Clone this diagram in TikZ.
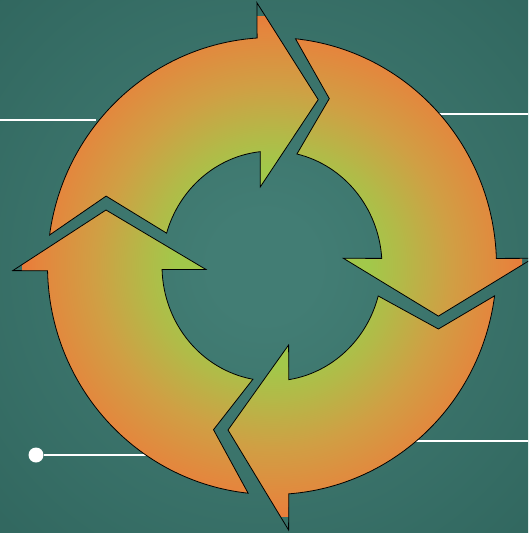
\documentclass[tikz,border=0pt]{standalone}
\usepackage{xcolor}
\usepackage{tikz}
\usetikzlibrary{calc}

\definecolor{sfondoc}{HTML}{427D74}
\definecolor{sfondob}{HTML}{31675F}
\definecolor{verde}{HTML}{A2C84A}
\definecolor{giallo}{HTML}{B2BA48}
\definecolor{ocra}{HTML}{D09F44}
\definecolor{arancio}{HTML}{E5853D}
\definecolor{rosso}{HTML}{EE6E35}

\pgfdeclareradialshading{sfondo}{\pgfpoint{0bp}{0bp}}{color(0bp)=(sfondoc); color(5bp)=(sfondoc); color(36bp)=(sfondob); color(50bp)=(sfondob)}
\pgfdeclareradialshading{anello}{\pgfpoint{0bp}{0bp}}{color(0bp)=(verde); color(9bp)=(verde); color(12bp)=(giallo); color(17bp)=(ocra); color(22.5bp)=(arancio); color(26bp)=(rosso); color(50bp)=(rosso)}

\begin{document}
\begin{tikzpicture}[x=1pt,y=-1pt,
  bordo/.style={draw=black,line width=0.8pt,
    path picture={\shade[shading=anello] ($(C)+(-250,-250)$) rectangle ($(C)+(250,250)$);}},
  linea/.style={draw=white,line width=2.4pt},
  punto/.style={circle,fill=white,inner sep=0pt,minimum size=15pt}]
  \useasboundingbox (0,0) rectangle (528,533);
  \clip (0,0) rectangle (528,533);
  % sfondo
  \shade[shading=sfondo] (0,0) rectangle (528,533);
  \coordinate (C) at (272,266);
  % linee bianche
  \coordinate (a1) at (0,120);   \coordinate (a2) at (96,120);
  \coordinate (b1) at (528,114); \coordinate (b2) at (436,114);
  \coordinate (c1) at (528,441); \coordinate (c2) at (412,441);
  \coordinate (d2) at (160,455);
  \node[punto] (p) at (36,455) {};
  \draw[linea] (a1) -- (a2);
  \draw[linea] (b1) -- (b2);
  \draw[linea] (c1) -- (c2);
  \draw[linea] (p) -- (d2);
  % freccia in alto
  \path[bordo] ($(C)+(187.8:224.5 and 228.5)$) -- (106.1,196.1) -- ($(C)+(196.6:110 and 115)$)
    arc[start angle=196.6,end angle=263.9,x radius=110,y radius=115] -- (260.3,186.9) -- (318.2,99.6)
    -- (256.9,2.7) -- ($(C)+(266.2:224.5 and 228.5)$)
    arc[start angle=266.2,end angle=187.8,x radius=224.5,y radius=228.5] -- cycle;
  % freccia a destra
  \path[bordo] ($(C)+(276.0:224.5 and 228.5)$) -- (329.3,98.6) -- ($(C)+(283.1:110 and 115)$)
    arc[start angle=283.1,end angle=356.2,x radius=110,y radius=115] -- (343.4,258.3) -- (438.4,316.1)
    -- (533,258.3) -- ($(C)+(358.1:224.5 and 228.5)$)
    arc[start angle=358.1,end angle=276.0,x radius=224.5,y radius=228.5] -- cycle;
  % freccia in basso
  \path[bordo] ($(C)+(7.5:224.5 and 228.5)$) -- (438.4,329) -- ($(C)+(15.1:110 and 115)$)
    arc[start angle=15.1,end angle=81.2,x radius=110,y radius=115] -- (288.6,345) -- (228,430)
    -- (288.6,530) -- ($(C)+(85.7:224.5 and 228.5)$)
    arc[start angle=85.7,end angle=7.5,x radius=224.5,y radius=228.5] -- cycle;
  % freccia a sinistra
  \path[bordo] ($(C)+(96.1:224.5 and 228.5)$) -- (213.5,429.7) -- ($(C)+(100.0:110 and 115)$)
    arc[start angle=100.0,end angle=178.3,x radius=110,y radius=115] -- (206,269.5) -- (106,210)
    -- (12.8,270.6) -- ($(C)+(178.8:224.5 and 228.5)$)
    arc[start angle=178.8,end angle=96.1,x radius=224.5,y radius=228.5] -- cycle;
\end{tikzpicture}
\end{document}
